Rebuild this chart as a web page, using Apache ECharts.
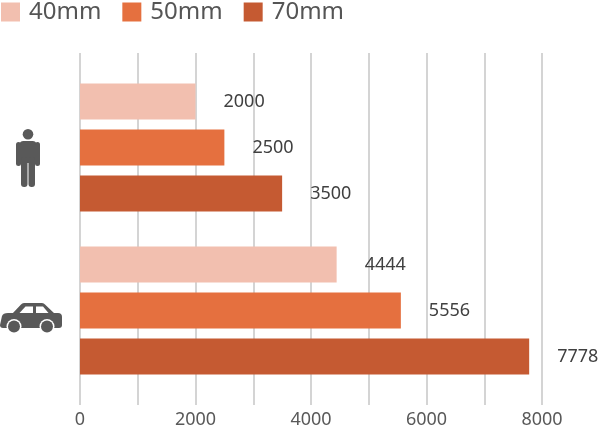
<!DOCTYPE html>
<html>
<head>
	<meta charset="utf-8">
	<title>Bars</title>
	<style>
		html,body{margin:0;padding:0;background:#fff}
	</style>
</head>
<body>
<div id="main_echarts" style="width: 600px;height:428px;"></div>
<script src="https://cdn.jsdelivr.net/npm/echarts@6/dist/echarts.min.js"></script>
<script>
	var categories = ['person', 'car'];
	var seriesNames = ['40mm', '50mm', '70mm'];
	var values40 = [2000, 4444];
	var values50 = [2500, 5556];
	var values70 = [3500, 7778];
	var colors = ['#F2BFAF', '#E5703F', '#C55A32'];

	// icons for the category labels (svg, grey)
	var personSvg = '<svg xmlns="http://www.w3.org/2000/svg" width="24" height="79" viewBox="0 -21 24 79">'
		+ '<g fill="#595959"><circle cx="12" cy="5.3" r="5.3"/>'
		+ '<rect x="3.5" y="12" width="17" height="22" rx="4"/>'
		+ '<rect x="0" y="13" width="5" height="24" rx="2.5"/>'
		+ '<rect x="19" y="13" width="5" height="24" rx="2.5"/>'
		+ '<rect x="5" y="28" width="6.5" height="30" rx="3"/>'
		+ '<rect x="12.5" y="28" width="6.5" height="30" rx="3"/></g></svg>';
	var carSvg = '<svg xmlns="http://www.w3.org/2000/svg" width="62" height="45" viewBox="0 -15 62 45">'
		+ '<g fill="#595959"><path d="M12,11 L21,1.5 Q22,0 24,0 L42,0 Q44,0 45,1.5 L55,11 Z"/>'
		+ '<path d="M2,13 Q3,10 8,10 L58,10 Q62,10 62,14 L62,22 Q62,25 59,25 L3,25 Q0,25 0,22 Z"/></g>'
		+ '<g fill="#fff"><path d="M19.5,10 L25.5,3.5 L33,3.5 L33,10 Z"/><path d="M36,3.5 L43,3.5 L48.5,10 L36,10 Z"/>'
		+ '<circle cx="14" cy="23.5" r="7.5"/><circle cx="47" cy="23.5" r="7.5"/></g>'
		+ '<g fill="#595959"><circle cx="14" cy="23.5" r="6"/><circle cx="47" cy="23.5" r="6"/></g></svg>';
	function svgUri(s){ return 'data:image/svg+xml;charset=utf-8,' + encodeURIComponent(s); }

	var myChart = echarts.init(document.getElementById('main_echarts'));
	var seriesData = [values40, values50, values70];
	var series = seriesNames.map(function(name, i){
		return {
			name: name,
			type: 'bar',
			xAxisIndex: 0,
			yAxisIndex: 0,
			z: 5,
			barWidth: 36,
			barGap: '28%',
			data: seriesData[i],
			itemStyle: {color: colors[i]},
			label: {
				show: true,
				position: 'right',
				distance: 28,
				fontFamily: 'Noto Sans',
				fontSize: 18,
				color: '#404040'
			}
		};
	});
	var option = {
		animation: false,
		textStyle: {fontFamily: 'Noto Sans'},
		legend: {
			data: seriesNames,
			left: 1,
			top: 0,
			padding: 0,
			icon: 'rect',
			itemWidth: 19,
			itemHeight: 19,
			itemGap: 21,
			textStyle: {fontSize: 24, color: '#555555', fontFamily: 'Noto Sans', padding: [0, 0, 0, 4]}
		},
		grid: [
			{left: 80, right: 58, top: 66, bottom: 36, outerBoundsMode: 'none', containLabel: false},
			{left: 80, right: 58, top: 53, bottom: 23, outerBoundsMode: 'none', containLabel: false}
		],
		xAxis: [
			{gridIndex: 0, type: 'value', min: 0, max: 8000, show: false},
			{
				gridIndex: 1, type: 'value', min: 0, max: 8000, interval: 2000, z: 0,
				axisLine: {show: false},
				axisTick: {show: false},
				splitLine: {show: true, lineStyle: {color: '#c6c6c6', width: 1.5}},
				minorTick: {show: false, splitNumber: 2},
				minorSplitLine: {show: true, lineStyle: {color: '#c6c6c6', width: 1.5}},
				axisLabel: {
					fontSize: 18, color: '#595959', margin: 6, fontFamily: 'Noto Sans',
					formatter: function(v){ return String(v); }
				}
			}
		],
		yAxis: [
			{
				gridIndex: 0, type: 'category', data: categories, inverse: true,
				axisLine: {show: false},
				axisTick: {show: false},
				axisLabel: {
					margin: 18,
					formatter: function(v){ return v === 'person' ? '{person|}{sp|}' : '{car|}'; },
					rich: {
						person: {backgroundColor: {image: svgUri(personSvg)}, width: 24, height: 79},
						sp: {width: 22, height: 1},
						car: {backgroundColor: {image: svgUri(carSvg)}, width: 62, height: 45}
					}
				}
			},
			{gridIndex: 1, type: 'value', show: false}
		],
		series: series
	};
	myChart.setOption(option);
</script>
</body>
</html>
